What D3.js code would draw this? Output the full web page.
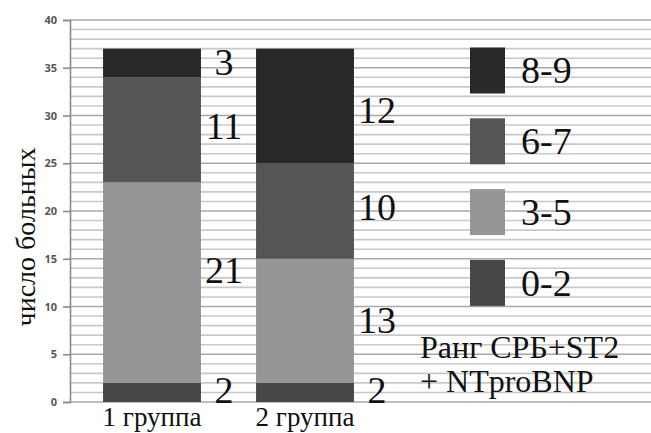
<!DOCTYPE html>
<html>
<head>
<meta charset="utf-8">
<script src="https://cdn.jsdelivr.net/npm/d3@7"></script>
<style>
  body { margin: 0; background: #fff; }
  svg { display: block; }
  .serif { font-family: "Liberation Serif", Tinos, "Times New Roman", Times, "DejaVu Serif", "Noto Serif", serif; }
</style>
</head>
<body>
<div id="chart"></div>
<script>
// data
const groups = ["1 группа", "2 группа"];
const ranks = ["0-2", "3-5", "6-7", "8-9"];
const rank02 = [2, 2];
const rank35 = [21, 13];
const rank67 = [11, 10];
const rank89 = [3, 12];
// where each value label sits (in chart units), per group, bottom to top
const labelAt1 = [1.3, 13.8, 28.9, 35.6];
const labelAt2 = [1.3, 8.6, 20.4, 30.6];
const yTicks = [0, 5, 10, 15, 20, 25, 30, 35, 40];
const legendTitle = ["Ранг СРБ+ST2", "+ NTproBNP"];
const yTitle = "число больных";

document.addEventListener('DOMContentLoaded', function() {
    const width = 651;
    const height = 433;

    const colors = d3.scaleOrdinal()
        .domain(ranks)
        .range(["#474747", "#969696", "#555555", "#282828"]);

    const table = groups.map((g, i) => ({
        group: g,
        "0-2": rank02[i],
        "3-5": rank35[i],
        "6-7": rank67[i],
        "8-9": rank89[i]
    }));
    const labelAt = [labelAt1, labelAt2];
    const series = d3.stack().keys(ranks)(table);

    const svg = d3.select("#chart")
        .append("svg")
        .attr("width", width)
        .attr("height", height);

    const x = d3.scaleBand()
        .domain(groups)
        .range([70, 387])
        .paddingInner(0.36)
        .paddingOuter(0.216);

    const y = d3.scaleLinear()
        .domain([0, 40])
        .range([402, 20]);

    // gridlines, one per unit, heavier every 5
    svg.append("g")
        .selectAll("line")
        .data(d3.range(0, 41))
        .enter().append("line")
        .attr("x1", 70)
        .attr("x2", width)
        .attr("y1", d => y(d))
        .attr("y2", d => y(d))
        .attr("stroke", d => d % 5 === 0 ? "#a8a8a8" : "#c8c8c8")
        .attr("stroke-width", 1.6);

    // y axis
    const yAxis = svg.append("g")
        .attr("transform", "translate(70,0)")
        .call(d3.axisLeft(y).tickValues(yTicks).tickSize(7).tickPadding(6));
    yAxis.select(".domain").attr("stroke", "#8a8a8a").attr("stroke-width", 1.6);
    yAxis.selectAll(".tick line").attr("stroke", "#8a8a8a").attr("stroke-width", 1.6);
    yAxis.selectAll(".tick text")
        .attr("fill", "#555")
        .style("font-family", "'Open Sans', sans-serif")
        .style("font-weight", "bold")
        .style("font-size", "11px");

    svg.append("text")
        .attr("class", "serif")
        .attr("transform", "translate(35,237) rotate(-90)")
        .attr("text-anchor", "middle")
        .attr("fill", "#111")
        .style("font-size", "28px")
        .text(yTitle);

    // stacked bars
    svg.append("g")
        .selectAll("g")
        .data(series)
        .enter().append("g")
        .attr("fill", d => colors(d.key))
        .selectAll("rect")
        .data(d => d)
        .enter().append("rect")
        .attr("x", d => x(d.data.group))
        .attr("width", x.bandwidth())
        .attr("y", d => y(d[1]))
        .attr("height", d => y(d[0]) - y(d[1]));

    // value labels to the right of each bar
    const labels = [];
    series.forEach((s, k) => {
        s.forEach((d, i) => {
            labels.push({ group: d.data.group, value: d[1] - d[0], at: labelAt[i][k] });
        });
    });
    svg.append("g")
        .selectAll("text")
        .data(labels)
        .enter().append("text")
        .attr("class", "serif")
        .attr("x", d => x(d.group) + x.bandwidth() + 23)
        .attr("y", d => y(d.at))
        .attr("dy", "0.34em")
        .attr("text-anchor", "middle")
        .attr("fill", "#111")
        .style("font-size", "38px")
        .text(d => d.value);

    // group names
    svg.append("g")
        .selectAll("text")
        .data(groups)
        .enter().append("text")
        .attr("class", "serif")
        .attr("x", d => x(d) + x.bandwidth() / 2)
        .attr("y", 426)
        .attr("text-anchor", "middle")
        .attr("fill", "#111")
        .style("font-size", "27px")
        .text(d => d);

    // legend, top to bottom 8-9 .. 0-2
    const legend = svg.append("g")
        .selectAll("g")
        .data(ranks.slice().reverse())
        .enter().append("g")
        .attr("transform", (d, i) => `translate(470,${70.5 + i * 70.8})`);

    legend.append("rect")
        .attr("x", 0)
        .attr("y", -23)
        .attr("width", 35)
        .attr("height", 46)
        .attr("fill", d => colors(d));

    legend.append("text")
        .attr("class", "serif")
        .attr("x", 51)
        .attr("dy", "0.34em")
        .attr("fill", "#111")
        .style("font-size", "38px")
        .text(d => d);

    svg.append("g")
        .selectAll("text")
        .data(legendTitle)
        .enter().append("text")
        .attr("class", "serif")
        .attr("x", 420)
        .attr("y", (d, i) => 358 + i * 34)
        .attr("fill", "#111")
        .style("font-size", "32px")
        .text(d => d);
});
</script>
</body>
</html>
